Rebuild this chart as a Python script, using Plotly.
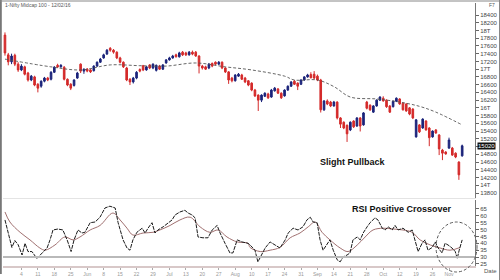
import plotly.graph_objects as go

# ---------------- data ----------------
opens = [17880,17370,17190,17360,17130,16980,17060,16900,16720,16800,
         16610,16560,16690,16770,16740,16920,17100,17060,17050,16740,
         16610,16580,16770,17130,16950,17000,16980,16960,17080,17180,
         17290,17390,17540,17490,17440,17290,17180,17030,16740,16670,
         16770,16990,17090,16980,17110,17030,16970,17080,17000,17160,
         17240,17290,17370,17320,17440,17420,17370,17440,17440,17340,
         17080,17060,17030,17150,17180,17130,17180,17030,16930,16770,
         16700,16820,16850,16770,16700,16640,16460,16330,16200,16300,
         16360,16280,16440,16490,16380,16310,16460,16560,16690,16640,
         16610,16720,16800,16860,16870,16820,16720,15950,16180,16150,
         16050,16150,15740,15630,15550,15430,15660,15530,15740,15560,
         16150,16070,15890,16050,16200,16250,16200,16050,16030,16170,
         16230,16120,16100,16000,15970,15250,15560,15480,15660,15480,
         15250,15430,15300,14910,14860,14960,14960,14830,14600,14760]
highs = [17950,17420,17400,17400,17180,17130,17090,16930,16850,16830,
         16640,16710,16800,16800,16950,17080,17140,17130,17080,16760,
         16640,16740,16930,17150,17020,17030,17000,17100,17200,17290,
         17400,17520,17570,17520,17460,17320,17200,17060,16770,16800,
         16950,17020,17110,17080,17130,17150,17120,17110,17130,17260,
         17320,17370,17400,17450,17470,17450,17470,17480,17470,17360,
         17110,17090,17160,17170,17200,17210,17200,17050,16950,16800,
         16870,16900,16880,16800,16720,16660,16490,16350,16350,16400,
         16390,16490,16540,16510,16400,16480,16580,16690,16720,16660,
         16740,16820,16880,16920,16950,16860,16750,16200,16220,16180,
         16180,16170,15760,15650,15570,15650,15680,15760,15760,15890,
         16180,16090,16070,16220,16300,16300,16220,16070,16190,16270,
         16250,16140,16120,16020,15990,15710,15580,15730,15680,15500,
         15420,15450,15320,14940,14880,15230,14990,14850,14620,15050]
lows = [17350,17100,17130,17080,16930,16950,16840,16680,16690,16560,
        16400,16520,16660,16690,16710,16900,17030,17040,16710,16560,
        16460,16550,16750,16900,16880,16920,16900,16940,17060,17160,
        17270,17370,17450,17400,17260,17150,17030,16690,16590,16630,
        16740,16920,16950,16960,17000,17000,16940,16980,16980,17140,
        17220,17270,17300,17300,17340,17340,17350,17360,17320,16890,
        16990,16980,17000,17050,17100,17110,17000,16900,16620,16660,
        16680,16800,16720,16640,16560,16430,16280,15920,16150,16280,
        16230,16260,16420,16360,16230,16290,16440,16540,16590,16460,
        16590,16700,16780,16760,16740,16690,15880,15920,16070,16020,
        16030,15700,15480,15450,15120,15400,15480,15510,15390,15540,
        15960,15920,15870,16030,16180,16160,16000,15870,16010,16150,
        16080,15930,15900,15810,15710,15230,15350,15460,15410,15010,
        15230,15330,14780,14650,14790,14940,14760,14700,14140,14740]
closes = [17420,17190,17340,17130,16980,17080,16870,16720,16820,16590,
          16510,16690,16770,16720,16920,17050,17060,17100,16740,16590,
          16510,16720,16900,16950,17000,16950,16930,17080,17180,17260,
          17370,17490,17490,17440,17290,17180,17060,16720,16670,16770,
          16920,16950,16980,17060,17030,17130,17100,17000,17110,17240,
          17290,17340,17320,17420,17370,17370,17440,17390,17340,17080,
          17030,17000,17130,17080,17130,17180,17030,16930,16720,16700,
          16850,16870,16740,16670,16590,16460,16310,16200,16330,16380,
          16260,16460,16510,16380,16260,16460,16560,16670,16610,16560,
          16720,16800,16850,16780,16770,16720,15950,16180,16100,16050,
          16150,15740,15580,15480,15330,15630,15510,15740,15530,15870,
          15990,15950,16050,16200,16280,16180,16030,15890,16170,16250,
          16100,15950,15920,15840,15740,15690,15380,15710,15430,15230,
          15400,15350,14940,14830,14810,15170,14780,14730,14270,15020]

ma_idx = [0, 14, 23, 32, 41, 49, 58, 67, 75, 85, 88, 95, 100, 105, 113, 120, 126, 131, 139]
ma_val = [17260, 17060, 16980, 17110, 17090, 17080, 17160, 17060, 16980, 16820,
          16720, 16720, 16550, 16280, 16230, 16150, 16040, 15890, 15560]

rsi_idx = [0, 0.9, 2.1, 3.0, 4.0, 5.2, 6.1, 7.0, 8.2, 9.7, 11.3, 12.8, 13.7, 14.6, 16.1,
           17.6, 18.9, 20.1, 21.0, 22.2, 23.4, 24.3, 25.9, 27.4, 28.9, 30.4, 31.9, 33.5,
           34.4, 35.9, 37.1, 38.0, 38.9, 40.1, 41.7, 42.6, 43.5, 44.7, 45.6, 46.5, 48.1,
           49.6, 50.8, 51.7, 53.2, 54.7, 55.7, 56.9, 57.8, 58.7, 60.2, 61.7, 63.0, 64.5,
           65.4, 66.9, 68.4, 69.3, 70.6, 72.1, 73.9, 74.5, 76.0, 76.9, 78.2, 79.1, 80.6,
           82.1, 83.6, 85.2, 86.1, 87.6, 89.1, 90.6, 91.8, 92.8, 93.7, 94.9, 95.8, 96.7,
           97.9, 98.8, 99.8, 101.0, 101.9, 102.8, 104.0, 104.9, 105.8, 107.1, 108.0,
           108.9, 110.1, 111.0, 112.5, 113.4, 114.7, 115.6, 116.5, 117.7, 118.6, 119.5,
           121.0, 122.6, 123.8, 124.7, 125.6, 126.8, 127.7, 128.6, 129.9, 130.8, 131.7,
           132.9, 133.8, 134.7, 135.9, 136.9, 137.5, 138.1, 139.0]
rsi_val = [57, 47.5, 37, 42, 39, 31.5, 40, 34, 34, 29, 33, 36.6, 42.5, 49.7, 50.4,
           49.7, 42.5, 34, 42.5, 49.7, 47.5, 48, 55, 55.5, 59, 65.7, 67, 65.7,
           55, 42.5, 36.6, 35, 42.5, 48, 51, 47.5, 51, 55, 47.5, 49.7, 52,
           55, 57, 60.6, 62.8, 64, 62, 60.6, 58.5, 44.6, 44, 44, 49.7, 53,
           47.5, 40, 33, 33, 42.5, 41, 40, 38.8, 35, 26.5, 33, 36.6, 41,
           38.8, 36.6, 42.5, 47.5, 51, 49.7, 52, 57, 59, 55.5, 55, 42.5, 35,
           38.8, 42.5, 35, 28, 26.5, 30, 31.5, 33, 42.5, 44.6, 42.5,
           47.5, 52, 55, 58.5, 57, 51, 49.7, 52, 49.7, 53, 49.7,
           51, 48, 49.7, 42.5, 34, 40, 42.5, 35, 37, 41, 36.6,
           33, 40, 38.8, 36.6, 34, 29, 35, 42.5]

sig_idx = [0, 1.5, 4.6, 7.6, 10.6, 12.2, 15.2, 18.2, 20.7, 22.8, 25.9, 28.9, 32.8, 35.0,
           37.1, 38.9, 42.0, 45.0, 47.1, 50.2, 53.2, 56.3, 59.3, 62.3, 64.8, 67.5, 70.6,
           73.9, 74.5, 77.6, 80.6, 83.6, 86.7, 89.7, 92.2, 94.3, 96.4, 98.8, 101.9, 104.3,
           107.1, 109.5, 111.9, 115.0, 118.0, 121.0, 123.8, 126.2, 129.3, 132.3, 135.3, 138.4]
sig_val = [62.8, 55.5, 48, 42.5, 36.6, 35, 38.8, 44.6, 42.5, 44.6, 49.7, 53, 62, 57,
           51, 46, 47.5, 48, 49.7, 53, 57, 59, 52, 48, 49.7, 44.6, 41,
           40, 37, 34, 35, 37, 44, 47.5, 52, 55.5, 48, 42.5, 36.6, 34,
           38.8, 44.6, 49.7, 51, 50.4, 49.7, 48, 42.5, 38.8, 36.6, 35, 37]

oversold_level = 30

price_ticks = list(range(13800, 18401, 200))
price_tick_text = [("" if v == 15000 else (f"{v//1000}T" if v % 1000 == 0 else str(v)))
                   for v in price_ticks]
rsi_ticks = [25, 30, 35, 40, 45, 50, 55, 60, 65]

date_ticks = list(range(5, 140, 5))
date_labels = ["4", "11", "18", "25", "Jun", "8", "15", "22", "29", "Jul", "13", "20", "27",
               "Aug", "10", "17", "24", "31", "Sep", "14", "21", "28", "Oct", "12", "19", "26", "Nov"]

idx = list(range(len(closes)))

# ---------------- figure ----------------
W, H = 500, 280
ML, MR, MT, MB = 3, 25, 3, 14
PW, PH = W - ML - MR, H - MT - MB

def px_x(p):
    return (p - ML) / PW

def px_y(p):
    return (H - MB - p) / PH

fig = go.Figure()

fig.add_trace(go.Candlestick(
    x=idx, open=opens, high=highs, low=lows, close=closes,
    increasing=dict(line=dict(color="#1b237a", width=1), fillcolor="#1b237a"),
    decreasing=dict(line=dict(color="#d42a2a", width=1), fillcolor="#d42a2a"),
    whiskerwidth=0, xaxis="x", yaxis="y", showlegend=False, hoverinfo="skip"))

fig.add_trace(go.Scatter(
    x=ma_idx, y=ma_val, mode="lines", line=dict(color="#555555", width=0.9, dash="3px,2px"),
    line_shape="spline", xaxis="x", yaxis="y", showlegend=False, hoverinfo="skip"))

fig.add_trace(go.Scatter(
    x=sig_idx, y=sig_val, mode="lines", line=dict(color="#a07070", width=1),
    line_shape="spline", xaxis="x2", yaxis="y2", showlegend=False, hoverinfo="skip"))

fig.add_trace(go.Scatter(
    x=rsi_idx, y=rsi_val, mode="lines", line=dict(color="#1a1a1a", width=1, dash="4px,1px"),
    xaxis="x2", yaxis="y2", showlegend=False, hoverinfo="skip"))

xr = [-0.6, 142.9]
top_dom = [px_y(198), 1]
bot_dom = [0, px_y(200)]

fig.update_layout(
    width=W, height=H, margin=dict(l=ML, r=MR, t=MT, b=MB),
    paper_bgcolor="white", plot_bgcolor="white",
    font=dict(family="Liberation Sans, Arial, sans-serif", color="#444444", size=6),
    xaxis=dict(domain=[0, 1], range=xr, showticklabels=False, ticks="", showgrid=False,
               zeroline=False, rangeslider=dict(visible=False), anchor="y",
               showline=True, linecolor="#e4e4e4", linewidth=1),
    yaxis=dict(domain=top_dom, range=[13671, 18710], side="right", tickvals=price_ticks,
               ticktext=price_tick_text, ticks="outside", ticklen=3, tickcolor="#666",
               showgrid=False, zeroline=False, showline=True, linecolor="#777", linewidth=1,
               tickfont=dict(size=6, color="#444"), anchor="x"),
    xaxis2=dict(domain=[0, 1], range=xr, tickvals=date_ticks, ticktext=date_labels,
                ticks="outside", ticklen=2, tickcolor="#aaa", showgrid=False, zeroline=False,
                showline=True, linecolor="#d8c8c8", linewidth=1.5,
                tickfont=dict(size=5, color="#999"), anchor="y2"),
    yaxis2=dict(domain=bot_dom, range=[23.5, 71.5], side="right", tickvals=rsi_ticks,
                ticks="outside", ticklen=3, tickcolor="#666", showgrid=False, zeroline=False,
                showline=True, linecolor="#777", linewidth=1,
                tickfont=dict(size=6, color="#444"), anchor="x2"),
)

# RSI 30 level
fig.add_shape(type="line", xref="x2 domain", yref="y2", x0=0, x1=1,
              y0=oversold_level, y1=oversold_level, line=dict(color="#b9b9b9", width=2))

# frame
fig.add_shape(type="line", xref="paper", yref="paper", x0=px_x(0.8), x1=px_x(0.8),
              y0=px_y(274), y1=px_y(0), line=dict(color="#777777", width=2))
fig.add_shape(type="line", xref="paper", yref="paper", x0=px_x(0), x1=px_x(500),
              y0=px_y(1), y1=px_y(1), line=dict(color="#888888", width=1))
fig.add_shape(type="line", xref="paper", yref="paper", x0=px_x(499.5), x1=px_x(499.5),
              y0=px_y(280), y1=px_y(0), line=dict(color="#888888", width=1))

# dashed circle
fig.add_shape(type="circle", xref="paper", yref="paper",
              x0=px_x(436), x1=px_x(477), y0=px_y(272), y1=px_y(222),
              line=dict(color="#555555", width=1, dash="3px,2px"))

# annotations
fig.add_annotation(text="<b>Slight Pullback</b>", xref="paper", yref="paper",
                   x=px_x(353), y=px_y(162), showarrow=False,
                   font=dict(size=9, color="#111111", family="Liberation Sans, Arial"),
                   xanchor="center", yanchor="middle")
fig.add_annotation(text="<b>RSI Positive Crossover</b>", xref="paper", yref="paper",
                   x=px_x(402), y=px_y(209), showarrow=False,
                   font=dict(size=9, color="#111111", family="Liberation Sans, Arial"),
                   xanchor="center", yanchor="middle")
fig.add_annotation(text="1-Nifty Midcap 100 - 12/02/16", xref="paper", yref="paper",
                   x=px_x(3), y=px_y(5), showarrow=False, xanchor="left", yanchor="middle",
                   font=dict(size=5, color="#555555"))
fig.add_annotation(text="F7", xref="paper", yref="paper",
                   x=px_x(492), y=px_y(5), showarrow=False, xanchor="center", yanchor="middle",
                   font=dict(size=5, color="#555555"))
fig.add_annotation(text="Date", xref="paper", yref="paper",
                   x=px_x(490), y=px_y(271), showarrow=False, xanchor="center", yanchor="middle",
                   font=dict(size=6, color="#555555"))
fig.add_annotation(text=f"{closes[-1]}", xref="paper", yref="y",
                   x=px_x(477), y=closes[-1], showarrow=False, xanchor="left", yanchor="middle",
                   bgcolor="#111111", font=dict(size=6, color="white"), borderpad=0)

fig.write_html("out.html")
